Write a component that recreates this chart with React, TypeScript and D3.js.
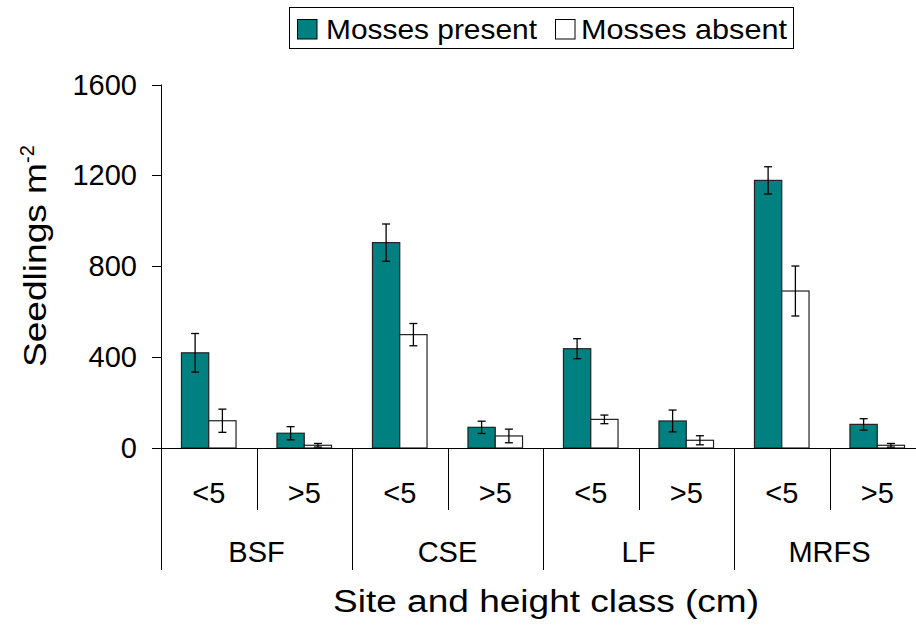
import React from "react";
import * as d3 from "d3";

const sites = ["BSF", "CSE", "LF", "MRFS"];
const heightClasses = ["<5", ">5"];
const presentMeans = [419, 65, 904, 91, 437, 119, 1178, 104];
const presentErr = [85, 29, 82, 27, 44, 48, 60, 25];
const absentMeans = [120, 12, 499, 53, 126, 34, 691, 12];
const absentErr = [51, 8, 49, 30, 19, 20, 110, 8];
const yTicks = [0, 400, 800, 1200, 1600];
const seriesNames = ["Mosses present", "Mosses absent"];

const W = 916;
const H = 628;
const FONT = "'Liberation Sans', Arial, sans-serif";
const TEAL = "#008080";

export default function App() {
  const slots = sites.flatMap((s) => heightClasses.map((h) => `${s}|${h}`));
  const x = d3.scaleBand<string>().domain(slots).range([161, 925]).paddingInner(0).paddingOuter(0);
  const xs = d3.scaleBand<string>().domain(["present", "absent"]).range([0, x.bandwidth()]).paddingInner(0).paddingOuter(0.75);
  const y = d3.scaleLinear().domain([0, 1600]).range([448, 84.5]);
  const groupW = x.bandwidth() * heightClasses.length;

  const series = [
    { key: "present", means: presentMeans, errs: presentErr, fill: TEAL },
    { key: "absent", means: absentMeans, errs: absentErr, fill: "#ffffff" },
  ];

  return (
    <svg width={W} height={H} style={{ position: "absolute", left: 0, top: 0 }} fontFamily={FONT}>
      <rect width={W} height={H} fill="#fff" />
      {/* legend */}
      <rect x={289.5} y={7.5} width={504} height={41} fill="#fff" stroke="#000" strokeWidth={1} />
      <rect x={297.5} y={19.5} width={19.5} height={19.5} fill={TEAL} stroke="#000" strokeWidth={1} />
      <text x={326} y={39} fontSize={28} textLength={211} lengthAdjust="spacingAndGlyphs">{seriesNames[0]}</text>
      <rect x={555.5} y={19.5} width={19.5} height={19.5} fill="#fff" stroke="#000" strokeWidth={1} />
      <text x={581} y={39} fontSize={28} textLength={206} lengthAdjust="spacingAndGlyphs">{seriesNames[1]}</text>

      {/* bars */}
      {series.map((s) =>
        slots.map((slot, i) => {
          const bx = (x(slot) as number) + (xs(s.key) as number);
          const bw = xs.bandwidth();
          const cx = bx + bw / 2;
          const top = y(s.means[i]);
          const eTop = y(s.means[i] + s.errs[i]);
          const eBot = y(Math.max(0, s.means[i] - s.errs[i]));
          return (
            <g key={s.key + slot}>
              <rect x={bx} y={top} width={bw} height={y(0) - top} fill={s.fill} stroke="#222" strokeWidth={1.2} />
              <line x1={cx} x2={cx} y1={eTop} y2={eBot} stroke="#000" strokeWidth={1.3} />
              <line x1={cx - 4} x2={cx + 4} y1={eTop} y2={eTop} stroke="#000" strokeWidth={1.3} />
              <line x1={cx - 4} x2={cx + 4} y1={eBot} y2={eBot} stroke="#000" strokeWidth={1.3} />
            </g>
          );
        })
      )}

      {/* y axis */}
      <line x1={161.5} x2={161.5} y1={y(1600)} y2={570} stroke="#000" strokeWidth={1} />
      {yTicks.map((t) => (
        <g key={t}>
          <line x1={152} x2={161.5} y1={Math.round(y(t)) + 0.5} y2={Math.round(y(t)) + 0.5} stroke="#000" strokeWidth={1} />
          <text x={137} y={y(t) + 10} fontSize={29} textAnchor="end">{t}</text>
        </g>
      ))}
      {/* x axis */}
      <line x1={152} x2={W} y1={448.5} y2={448.5} stroke="#000" strokeWidth={1} />
      {slots.map((slot, i) => {
        const sx = x(slot) as number;
        const isGroupStart = i % heightClasses.length === 0;
        return (
          <g key={"d" + slot}>
            {!isGroupStart && (
              <line x1={Math.round(sx) + 0.5} x2={Math.round(sx) + 0.5} y1={448} y2={510} stroke="#000" strokeWidth={1} />
            )}
            <text x={sx + x.bandwidth() / 2} y={503} fontSize={29} textAnchor="middle">
              {heightClasses[i % heightClasses.length]}
            </text>
          </g>
        );
      })}
      {sites.map((s) => {
        const gx = (x(`${s}|${heightClasses[0]}`) as number);
        return (
          <g key={s}>
            <line x1={Math.round(gx + groupW) + 0.5} x2={Math.round(gx + groupW) + 0.5} y1={448} y2={570} stroke="#000" strokeWidth={1} />
            <text x={gx + groupW / 2} y={562} fontSize={29} textAnchor="middle">{s}</text>
          </g>
        );
      })}

      {/* titles */}
      <text x={546} y={612} fontSize={31} textAnchor="middle" textLength={426} lengthAdjust="spacingAndGlyphs">
        Site and height class (cm)
      </text>
      <g transform="translate(46,367) rotate(-90)">
        <text x={0} y={0} fontSize={31}>
          <tspan textLength={204} lengthAdjust="spacingAndGlyphs">Seedlings m</tspan>
          <tspan dy={-12} fontSize={20}>-2</tspan>
        </text>
      </g>
    </svg>
  );
}
